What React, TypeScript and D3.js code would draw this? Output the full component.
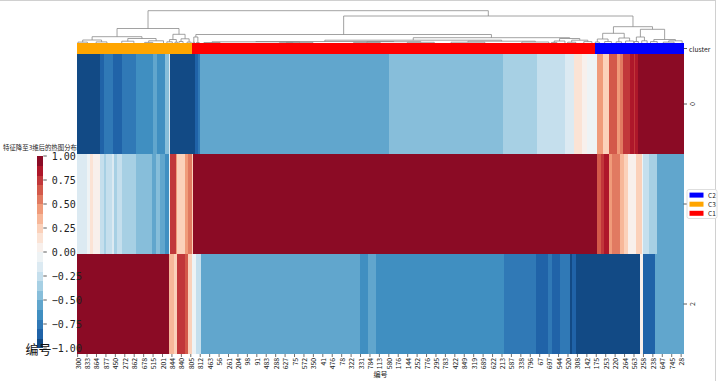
import React from "react";
import * as d3 from "d3";

// ---------- DATA ----------
const N_COLS = 900;
const TICK_STEP = 14;
const sampleIdLabels = [
  "300","833","864","877","450","272","862","678","515","201","844","840","805",
  "812","463","56","261","204","98","91","483","288","627","75","572","350",
  "41","476","78","322","331","784","113","580","176","144","252","776","295",
  "783","422","849","319","689","622","213","587","338","796","67","697","544",
  "520","308","142","175","253","220","264","563","258","238","647","745","28",
];
const rowLabels = ["0", "1", "2"];

// run-length encoded rows: [number of columns, value]
const row0Runs: [number, number][] = [
  [33,-1],[6,-0.85],[14,-0.75],[14,-0.85],[20,-0.75],[26,-0.65],[6,-0.55],[11,-0.65],
  [6,-0.45],[2,-0.15],[37,-1],[4,-0.85],[3,-0.75],[281,-0.55],[169,-0.45],[50,-0.35],
  [42,-0.25],[14,-0.15],[11,0.15],[7,0.05],[16,-0.05],[8,0.45],[10,0.25],[11,0.65],
  [4,0.45],[5,0.55],[10,0.75],[6,0.85],[2,0.75],[4,0.85],[68,1],
];
const row1Runs: [number, number][] = [
  [14,-0.15],[5,-0.05],[4,0.15],[10,0.05],[6,-0.25],[4,-0.35],[8,-0.25],[3,-0.15],
  [5,-0.35],[7,-0.25],[21,-0.35],[24,-0.45],[6,-0.55],[6,-0.45],[7,-0.55],[6,-0.65],
  [2,-0.05],[9,0.75],[1,0.45],[12,0.25],[5,0.45],[6,0.55],[1,0.25],[600,1],[6,0.65],
  [4,0.75],[8,0.85],[4,0.45],[11,0.55],[7,0.35],[5,0.25],[13,0.05],[8,0.25],[2,-0.05],
  [9,-0.25],[11,-0.35],[40,-0.55],
];
const row2Runs: [number, number][] = [
  [136,1],[7,0.35],[5,0.25],[12,0.75],[5,0.65],[6,0.25],[5,-0.05],[7,-0.25],[237,-0.55],
  [12,-0.65],[12,-0.55],[189,-0.65],[48,-0.75],[18,-0.85],[6,-0.75],[11,-0.85],[15,-0.75],
  [3,-1],[6,-0.85],[96,-1],[4,0.05],[17,-0.85],[43,-0.55],
];
const clusterRuns: [number, string][] = [[171, "C3"], [597, "C1"], [132, "C2"]];
const clusterNames = ["C1", "C2", "C3"];
const clusterHex = ["#ff0000", "#0000ff", "#ffa500"];
const legendOrder = ["C2", "C3", "C1"];
const cbarTicks = [1, 0.75, 0.5, 0.25, 0, -0.25, -0.5, -0.75, -1];
const N_BANDS = 20;
const rdbuAnchors = ["#67001f","#b2182b","#d6604d","#f4a582","#fddbc7","#f7f7f7","#d1e5f0","#92c5de","#4393c3","#2166ac","#053061"];

// dendrogram (leaf column positions, merge heights)
type DNode = { h: number; x?: number; kids?: [DNode, DNode] };
const L = (x: number): DNode => ({ h: 0, x });
const M = (h: number, a: DNode, b: DNode): DNode => ({ h, kids: [a, b] });
const dendroTree: DNode = M(32.3,
  M(14.5,
    M(6.3,
      M(3.0, M(0.9, L(1), L(15)), M(1.1, L(28), L(44))),
      M(4.5, M(1.8, L(66), L(84)), M(2.2, M(0.6, L(100), L(112)), L(128)))
    ),
    M(8.7,
      M(3.5, M(1.2, L(133), L(141)), M(0.8, L(145), L(149))),
      M(4.2, M(1.5, L(151), L(157)), M(0.9, L(163), L(169)))
    )
  ),
  M(27,
    M(8.5,
      M(6, M(0.8, L(172), L(174)), M(0.5, L(177), L(181))),
      M(5.3,
        M(2.8,
          M(1.5,
            M(1.2, M(0.5, L(188), L(212)), M(0.4, M(0.3, L(300), L(320)), L(350))),
            M(1.3, M(0.4, L(410), L(450)), M(0.7, L(490), L(530)))
          ),
          M(1.8, M(0.8, L(555), L(605)), M(1.0, L(660), L(700)))
        ),
        M(4.5,
          M(2.0, M(0.6, L(704), L(712)), L(724)),
          M(2.8, M(0.8, L(728), L(740)), M(1.4, L(752), L(764)))
        )
      )
    ),
    M(16.3,
      M(9.7,
        M(4.0, M(1.0, L(769), L(775)), M(1.5, L(783), L(793))),
        M(5.0, M(1.2, L(800), L(808)), M(2.0, L(814), L(826)))
      ),
      M(13.7,
        M(6.0, M(1.5, L(827), L(833)), M(2.2, L(838), L(846))),
        M(3.5, M(1.4, L(851), L(861)), M(2.2, M(0.9, L(870), L(886)), L(898)))
      )
    )
  )
);

// ---------- HELPERS ----------
function expandRuns<T>(runs: [number, T][]) {
  const out: { start: number; end: number; v: T }[] = [];
  let c = 0;
  for (const [n, v] of runs) {
    out.push({ start: c, end: c + n, v });
    c += n;
  }
  return out;
}

const rdbu = d3
  .scaleLinear<string>()
  .domain(d3.range(11).map((i) => i / 10))
  .range(rdbuAnchors)
  .interpolate(d3.interpolateRgb);
const bandColors = d3.range(N_BANDS).map((i) => rdbu(1 - (i + 1) / (N_BANDS + 1)));
const colorScale = d3.scaleQuantize<string>().domain([-1, 1]).range(bandColors);
const clusterColor = d3.scaleOrdinal<string, string>().domain(clusterNames).range(clusterHex);

const CJK = "'Noto Sans CJK SC', 'DejaVu Sans', sans-serif";
const MONO = "'DejaVu Sans Mono', 'Liberation Mono', monospace";

export default function App() {
  const W = 720, H = 381;
  const hmLeft = 77.3, hmRight = 683.5, hmTop = 54, hmBottom = 354;
  const x = d3.scaleLinear().domain([0, N_COLS]).range([hmLeft, hmRight]);
  const yRow = d3.scaleBand<string>().domain(rowLabels).range([hmTop, hmBottom]);
  const yDen = d3.scaleLinear().domain([0, 33]).range([43, 10]);
  const cbTop = 156, cbBottom = 348, cbLeft = 36.8, cbRight = 43.3;
  const yCb = d3.scaleLinear().domain([-1, 1]).range([cbBottom, cbTop]);

  const rows = [row0Runs, row1Runs, row2Runs].map((r) => expandRuns(r));
  const clusterSegs = expandRuns(clusterRuns);

  // dendrogram layout
  const links: string[] = [];
  const layout = (n: DNode): number => {
    if (!n.kids) return n.x as number;
    const xa = layout(n.kids[0]);
    const xb = layout(n.kids[1]);
    const p = d3.path();
    p.moveTo(x(xa), yDen(n.kids[0].h));
    p.lineTo(x(xa), yDen(n.h));
    p.lineTo(x(xb), yDen(n.h));
    p.lineTo(x(xb), yDen(n.kids[1].h));
    links.push(p.toString());
    n.x = (xa + xb) / 2;
    return n.x;
  };
  layout(dendroTree);

  const xTicks = sampleIdLabels.map((lab, i) => ({ lab, c: i * TICK_STEP + 0.5 }));
  const bandEdges = d3.range(N_BANDS).map((i) => ({
    y0: yCb(-1 + (2 * (i + 1)) / N_BANDS),
    y1: yCb(-1 + (2 * i) / N_BANDS),
    col: bandColors[i],
  }));

  return (
    <svg
      width={W}
      height={H}
      style={{ position: "absolute", left: 0, top: 0, background: "#fff" }}
    >
      <rect x={0} y={0} width={W} height={H} fill="#fff" />
      <line x1={0} x2={716} y1={0.5} y2={0.5} stroke="#d0d0d0" />
      <line x1={715.5} x2={715.5} y1={0} y2={H} stroke="#d0d0d0" />

      {/* dendrogram */}
      <g fill="none" stroke="#8a8a8a" strokeWidth={0.8}>
        {links.map((d, i) => (
          <path key={i} d={d} />
        ))}
      </g>

      {/* cluster colour bar */}
      <g shapeRendering="crispEdges">
        {clusterSegs.map((s, i) => (
          <rect
            key={i}
            x={x(s.start)}
            y={43.3}
            width={x(s.end) - x(s.start)}
            height={10.3}
            fill={clusterColor(s.v)}
          />
        ))}
      </g>

      {/* heatmap */}
      <g shapeRendering="crispEdges">
        {rows.map((segs, r) =>
          segs.map((s, i) => (
            <rect
              key={r + "-" + i}
              x={x(s.start)}
              y={yRow(rowLabels[r]) as number}
              width={x(s.end) - x(s.start)}
              height={yRow.bandwidth()}
              fill={colorScale(s.v)}
            />
          ))
        )}
      </g>

      {/* right ticks/labels */}
      <g stroke="#333" strokeWidth={0.8}>
        <line x1={hmRight} x2={hmRight + 3.5} y1={48.5} y2={48.5} />
        {rowLabels.map((r) => {
          const yc = (yRow(r) as number) + yRow.bandwidth() / 2;
          return <line key={r} x1={hmRight} x2={hmRight + 3.5} y1={yc} y2={yc} />;
        })}
      </g>
      <text x={689} y={48.7} fontSize={6.8} fontFamily={CJK} fill="#222" dominantBaseline="central">
        cluster
      </text>
      {rowLabels.map((r) => {
        const yc = (yRow(r) as number) + yRow.bandwidth() / 2;
        return (
          <text
            key={r}
            transform={`translate(688.5,${yc}) rotate(-90)`}
            textAnchor="middle"
            dominantBaseline="hanging"
            fontSize={7}
            fontFamily={CJK}
            fill="#222"
          >
            {r}
          </text>
        );
      })}

      {/* bottom ticks */}
      <g stroke="#333" strokeWidth={0.7}>
        {xTicks.map((t) => (
          <line key={t.lab} x1={x(t.c)} x2={x(t.c)} y1={hmBottom} y2={hmBottom + 3} />
        ))}
      </g>
      {xTicks.map((t) => (
        <text
          key={t.lab}
          transform={`translate(${x(t.c)},${hmBottom + 4}) rotate(-90)`}
          textAnchor="end"
          dominantBaseline="central"
          fontSize={6.8}
          fontFamily={CJK}
          fill="#222"
        >
          {t.lab}
        </text>
      ))}
      <text
        x={(hmLeft + hmRight) / 2}
        y={377}
        textAnchor="middle"
        fontSize={7}
        fontFamily={CJK}
        fill="#222"
      >
        编号
      </text>

      {/* legend */}
      <rect x={687} y={189.5} width={30} height={29} rx={2} fill="#fff" fillOpacity={0.9} stroke="#d6d6d6" strokeWidth={0.8} />
      {legendOrder.map((c, i) => (
        <g key={c}>
          <rect x={689.5} y={192.6 + i * 9.1} width={14} height={5} fill={clusterColor(c)} />
          <text x={708} y={195.2 + i * 9.1} fontSize={6.5} fontFamily={CJK} fill="#222" dominantBaseline="central">
            {c}
          </text>
        </g>
      ))}

      {/* colour bar */}
      <text x={40} y={150} textAnchor="middle" fontSize={6.4} fontFamily={CJK} fill="#222">
        特征降至3维后的热图分布
      </text>
      <g shapeRendering="crispEdges">
        {bandEdges.map((b, i) => (
          <rect key={i} x={cbLeft} y={b.y0} width={cbRight - cbLeft} height={b.y1 - b.y0 + 0.3} fill={b.col} />
        ))}
      </g>
      <g stroke="#333" strokeWidth={0.8}>
        {cbarTicks.map((t) => (
          <line key={t} x1={cbRight} x2={cbRight + 3.5} y1={yCb(t)} y2={yCb(t)} />
        ))}
      </g>
      {cbarTicks.map((t) => (
        <text
          key={t}
          x={cbRight + 8.5}
          y={yCb(t)}
          dominantBaseline="central"
          fontSize={10}
          fontFamily={MONO}
          fill="#222"
        >
          {d3.format(".2f")(t).replace("-", "\u2212")}
        </text>
      ))}
      <text x={38.5} y={354} textAnchor="middle" fontSize={13} fontFamily={CJK} fill="#111">
        编号
      </text>
    </svg>
  );
}
